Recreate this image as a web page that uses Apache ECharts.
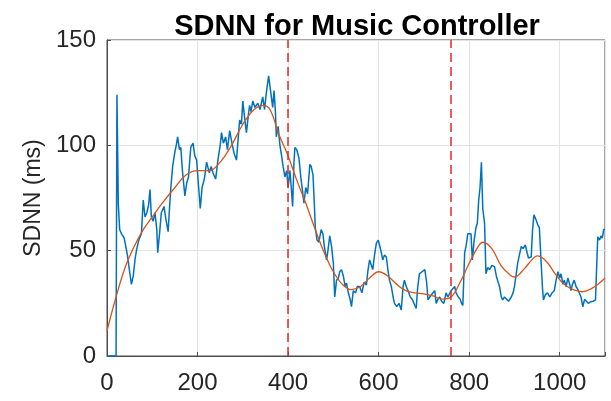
<!DOCTYPE html>
<html lang="en">
<head>
    <meta charset="UTF-8">
    <title>SDNN for Music Controller</title>
    <script src="https://cdn.jsdelivr.net/npm/echarts@6/dist/echarts.min.js"></script>
    <style>
        html, body { margin: 0; padding: 0; background: #fff; }
        #chart { width: 611px; height: 401px; }
    </style>
</head>
<body>
    <div id="chart"></div>
    <script type="text/javascript">
        // raw SDNN (blue)
        var rawX = [0, 20, 22, 25, 28, 32, 38, 45, 50, 54, 58, 62, 65, 70, 76, 80, 84, 88, 92, 95, 98, 102, 106, 110, 112, 116, 120, 126, 130, 135, 138, 141, 145, 150, 153, 156, 160, 163, 167, 172, 176, 180, 185, 190, 194, 198, 201, 206, 210, 215, 220, 226, 230, 234, 240, 245, 250, 253, 257, 262, 266, 271, 276, 281, 286, 290, 293, 297, 300, 304, 308, 312, 315, 318, 322, 327, 333, 338, 344, 348, 352, 357, 360, 363, 366, 369, 372, 374, 378, 382, 385, 389, 393, 397, 400, 404, 407, 410, 413, 415, 419, 424, 428, 432, 435, 439, 443, 446, 448, 451, 455, 458, 460, 464, 468, 473, 477, 480, 485, 488, 492, 496, 500, 503, 507, 511, 514, 518, 522, 526, 529, 533, 537, 540, 544, 549, 553, 558, 563, 568, 573, 576, 580, 584, 587, 591, 595, 599, 602, 606, 609, 613, 617, 621, 624, 628, 632, 635, 640, 645, 650, 654, 657, 661, 665, 670, 675, 680, 683, 686, 690, 696, 702, 706, 709, 713, 716, 720, 724, 727, 731, 735, 739, 744, 749, 753, 757, 760, 764, 768, 771, 776, 780, 783, 786, 790, 793, 797, 801, 804, 807, 811, 815, 818, 821, 824, 827, 830, 834, 837, 841, 845, 850, 856, 860, 864, 867, 871, 874, 878, 882, 887, 893, 897, 900, 904, 907, 911, 915, 919, 924, 928, 931, 937, 940, 943, 948, 952, 955, 959, 962, 964, 968, 973, 978, 983, 988, 992, 996, 1000, 1003, 1007, 1010, 1014, 1018, 1022, 1025, 1028, 1032, 1036, 1039, 1043, 1047, 1051, 1055, 1058, 1063, 1069, 1074, 1079, 1082, 1084, 1088, 1091, 1094, 1097, 1100];
        var rawY = [0, 0, 124, 72, 60, 58, 56, 48, 40, 34, 38, 46, 50, 55, 58, 74, 66, 68, 72, 79, 66, 64, 68, 60, 49, 58, 68, 71, 65, 59, 70, 80, 90, 97, 100, 104, 98, 99, 87, 76, 82, 85, 99, 101, 95, 93, 84, 70, 80, 84, 92, 87, 90, 87, 84, 93, 100, 106, 101, 104, 98, 107, 101, 96, 93, 104, 112, 110, 121, 113, 106, 114, 119, 116, 121, 118, 120, 117, 123, 117, 125, 133, 128, 123, 118, 126, 116, 104, 109, 100, 96, 90, 85, 88, 80, 88, 80, 71, 92, 99, 98, 94, 85, 78, 72.5, 80, 77, 85, 91, 90, 86, 72, 61, 55, 54, 60, 58, 52, 45.6, 50, 57, 52, 44, 28, 36, 37, 40, 41, 38, 33, 34.6, 30, 27, 23.4, 31, 30, 33, 33, 30, 35, 33.7, 40, 45.6, 43, 41, 48, 53.6, 55, 52.7, 49, 45.6, 48, 47, 40, 36, 33, 28, 25, 23.4, 25, 21.8, 33, 36, 33, 31, 28, 26.6, 24, 22.6, 32, 39, 40, 41, 35, 26.6, 28, 28, 30, 31, 25, 27, 28, 26, 25, 30, 28, 28, 31, 31, 33, 30, 28, 27, 25, 24, 49, 52, 58, 58, 58, 45.6, 55, 61, 63, 74, 80, 92, 70, 63, 39, 42, 41, 43, 42.4, 38, 35, 33, 28, 26.6, 28, 28, 26, 28, 30, 33, 39, 44, 48, 52, 51, 52.7, 49, 46.5, 47, 60, 67, 64.5, 62, 61, 44, 32, 26.6, 29, 30, 28, 30, 31, 36, 40, 37, 39, 34, 36, 33, 37, 34, 31, 34, 36, 33, 32, 30, 28, 23.4, 27, 26.6, 25, 25.8, 26, 26.6, 45, 56.6, 55, 57, 56, 60, 60];

        // smoothed trend (orange)
        var trendX = [0, 20, 40, 60, 80, 100, 120, 150, 175, 200, 225, 250, 275, 300, 325, 345, 360, 380, 400, 420, 440, 460, 480, 500, 520, 540, 560, 580, 600, 620, 640, 660, 680, 700, 720, 740, 760, 780, 800, 820, 830, 850, 870, 890, 900, 920, 940, 950, 970, 990, 1010, 1030, 1050, 1070, 1090, 1100];
        var trendY = [12, 28, 42, 52, 60, 66, 72, 80, 86, 88, 88, 92, 100, 110, 117, 119, 117, 105, 95, 83, 72, 60, 49, 40, 34, 31.5, 33, 37, 40, 38, 34, 31, 30, 29.5, 28.5, 27, 28, 35, 44, 52, 54, 51, 43, 38.5, 37.5, 41, 46, 47.5, 45, 39, 34, 31.5, 30.5, 32, 35, 37];

        var markers = [400, 760];
        var xTicks = [0, 200, 400, 600, 800, 1000];
        var yTicks = [0, 50, 100, 150];

        function pairs(xs, ys) {
            return xs.map(function (x, i) { return [x, ys[i]]; });
        }

        var textColor = '#262626';
        var axisColor = '#4d4d4d';
        var font = 'Liberation Sans, Arial, sans-serif';

        var myChart = echarts.init(document.getElementById('chart'));

        var option = {
            animation: false,
            backgroundColor: '#fff',
            title: {
                text: 'SDNN for Music Controller',
                left: 352,
                textAlign: 'center',
                top: 7,
                textStyle: { fontFamily: font, fontSize: 29, fontWeight: 'bold', color: '#000' }
            },
            // box round the plot, like MATLAB's axes
            grid: { left: 107, right: 6, top: 40, bottom: 45, show: true, borderColor: axisColor, borderWidth: 1 },
            xAxis: {
                type: 'value',
                min: 0,
                max: 1100,
                interval: 200,
                axisLine: { show: true, onZero: false, lineStyle: { color: axisColor, width: 1 } },
                axisTick: { show: true, inside: true, length: 4, lineStyle: { color: axisColor } },
                splitLine: { show: true, lineStyle: { color: '#e3e3e3', width: 1 } },
                axisLabel: {
                    fontFamily: font, fontSize: 24, color: textColor, margin: 15,
                    formatter: function (v) { return xTicks.indexOf(v) >= 0 ? String(v) : ''; }
                }
            },
            yAxis: {
                type: 'value',
                min: 0,
                max: 150,
                interval: 50,
                name: 'SDNN (ms)',
                nameLocation: 'middle',
                nameGap: 62,
                nameTextStyle: { fontFamily: font, fontSize: 23, color: textColor },
                axisLine: { show: true, onZero: false, lineStyle: { color: axisColor, width: 1 } },
                axisTick: { show: true, inside: true, length: 4, lineStyle: { color: axisColor } },
                splitLine: { show: true, lineStyle: { color: '#e3e3e3', width: 1 } },
                axisLabel: {
                    fontFamily: font, fontSize: 24, color: textColor, margin: 11,
                    formatter: function (v) { return yTicks.indexOf(v) >= 0 ? String(v) : ''; }
                }
            },
            series: [
                {
                    name: 'SDNN',
                    type: 'line',
                    data: pairs(rawX, rawY),
                    showSymbol: false,
                    lineStyle: { color: '#0072BD', width: 1.5 },
                    z: 3
                },
                {
                    name: 'trend',
                    type: 'line',
                    data: pairs(trendX, trendY),
                    smooth: 0.4,
                    showSymbol: false,
                    lineStyle: { color: '#D95319', width: 1.3 },
                    z: 4,
                    markLine: {
                        silent: true,
                        symbol: ['none', 'none'],
                        label: { show: false },
                        lineStyle: { color: '#e8262b', width: 1.5, type: [9, 5] },
                        data: markers.map(function (m) { return { xAxis: m }; })
                    }
                }
            ]
        };

        myChart.setOption(option);
    </script>
</body>
</html>
